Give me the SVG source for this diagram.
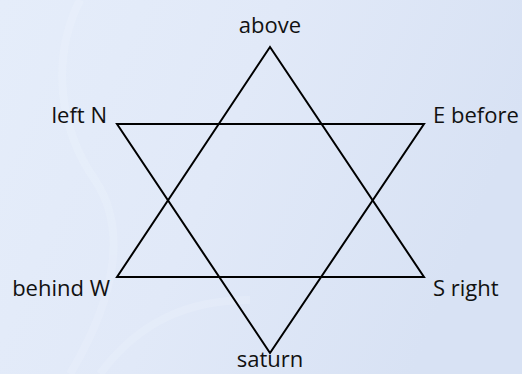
<svg xmlns="http://www.w3.org/2000/svg" width="522" height="374" viewBox="0 0 522 374">
<defs>
<linearGradient id="bg" x1="0" y1="0" x2="1" y2="0.3">
<stop offset="0" stop-color="#e5edfa"/>
<stop offset="0.5" stop-color="#e1e9f8"/>
<stop offset="1" stop-color="#d8e2f4"/>
</linearGradient>
<style>
.lbl{font-family:"Open Sans","Liberation Sans",sans-serif;font-size:22px;fill:#111}
.edge{fill:none;stroke:#000;stroke-width:2;stroke-linejoin:miter}
</style>
</defs>
<rect width="522" height="374" fill="url(#bg)"/>
<g opacity="0.2" fill="none" stroke="#f4f8ff" stroke-width="8">
<path d="M80,0 C50,60 60,130 95,180 C125,225 120,290 70,374"/>
<path d="M100,374 C140,320 190,300 250,300"/>
</g>
<g id="connectors">
<polygon class="edge" points="270,47 117,277 424,277"/>
<polygon class="edge" points="117,124 424,124 270,353"/>
</g>
<g id="above"><text class="lbl" x="270" y="33" text-anchor="middle">above</text></g>
<g id="leftN"><text class="lbl" x="107" y="123" text-anchor="end">left N</text></g>
<g id="Ebefore"><text class="lbl" x="433" y="123">E before</text></g>
<g id="behindW"><text class="lbl" x="110" y="296" text-anchor="end">behind W</text></g>
<g id="Sright"><text class="lbl" x="433" y="296">S right</text></g>
<g id="saturn"><text class="lbl" x="270" y="367" text-anchor="middle">saturn</text></g>
</svg>
